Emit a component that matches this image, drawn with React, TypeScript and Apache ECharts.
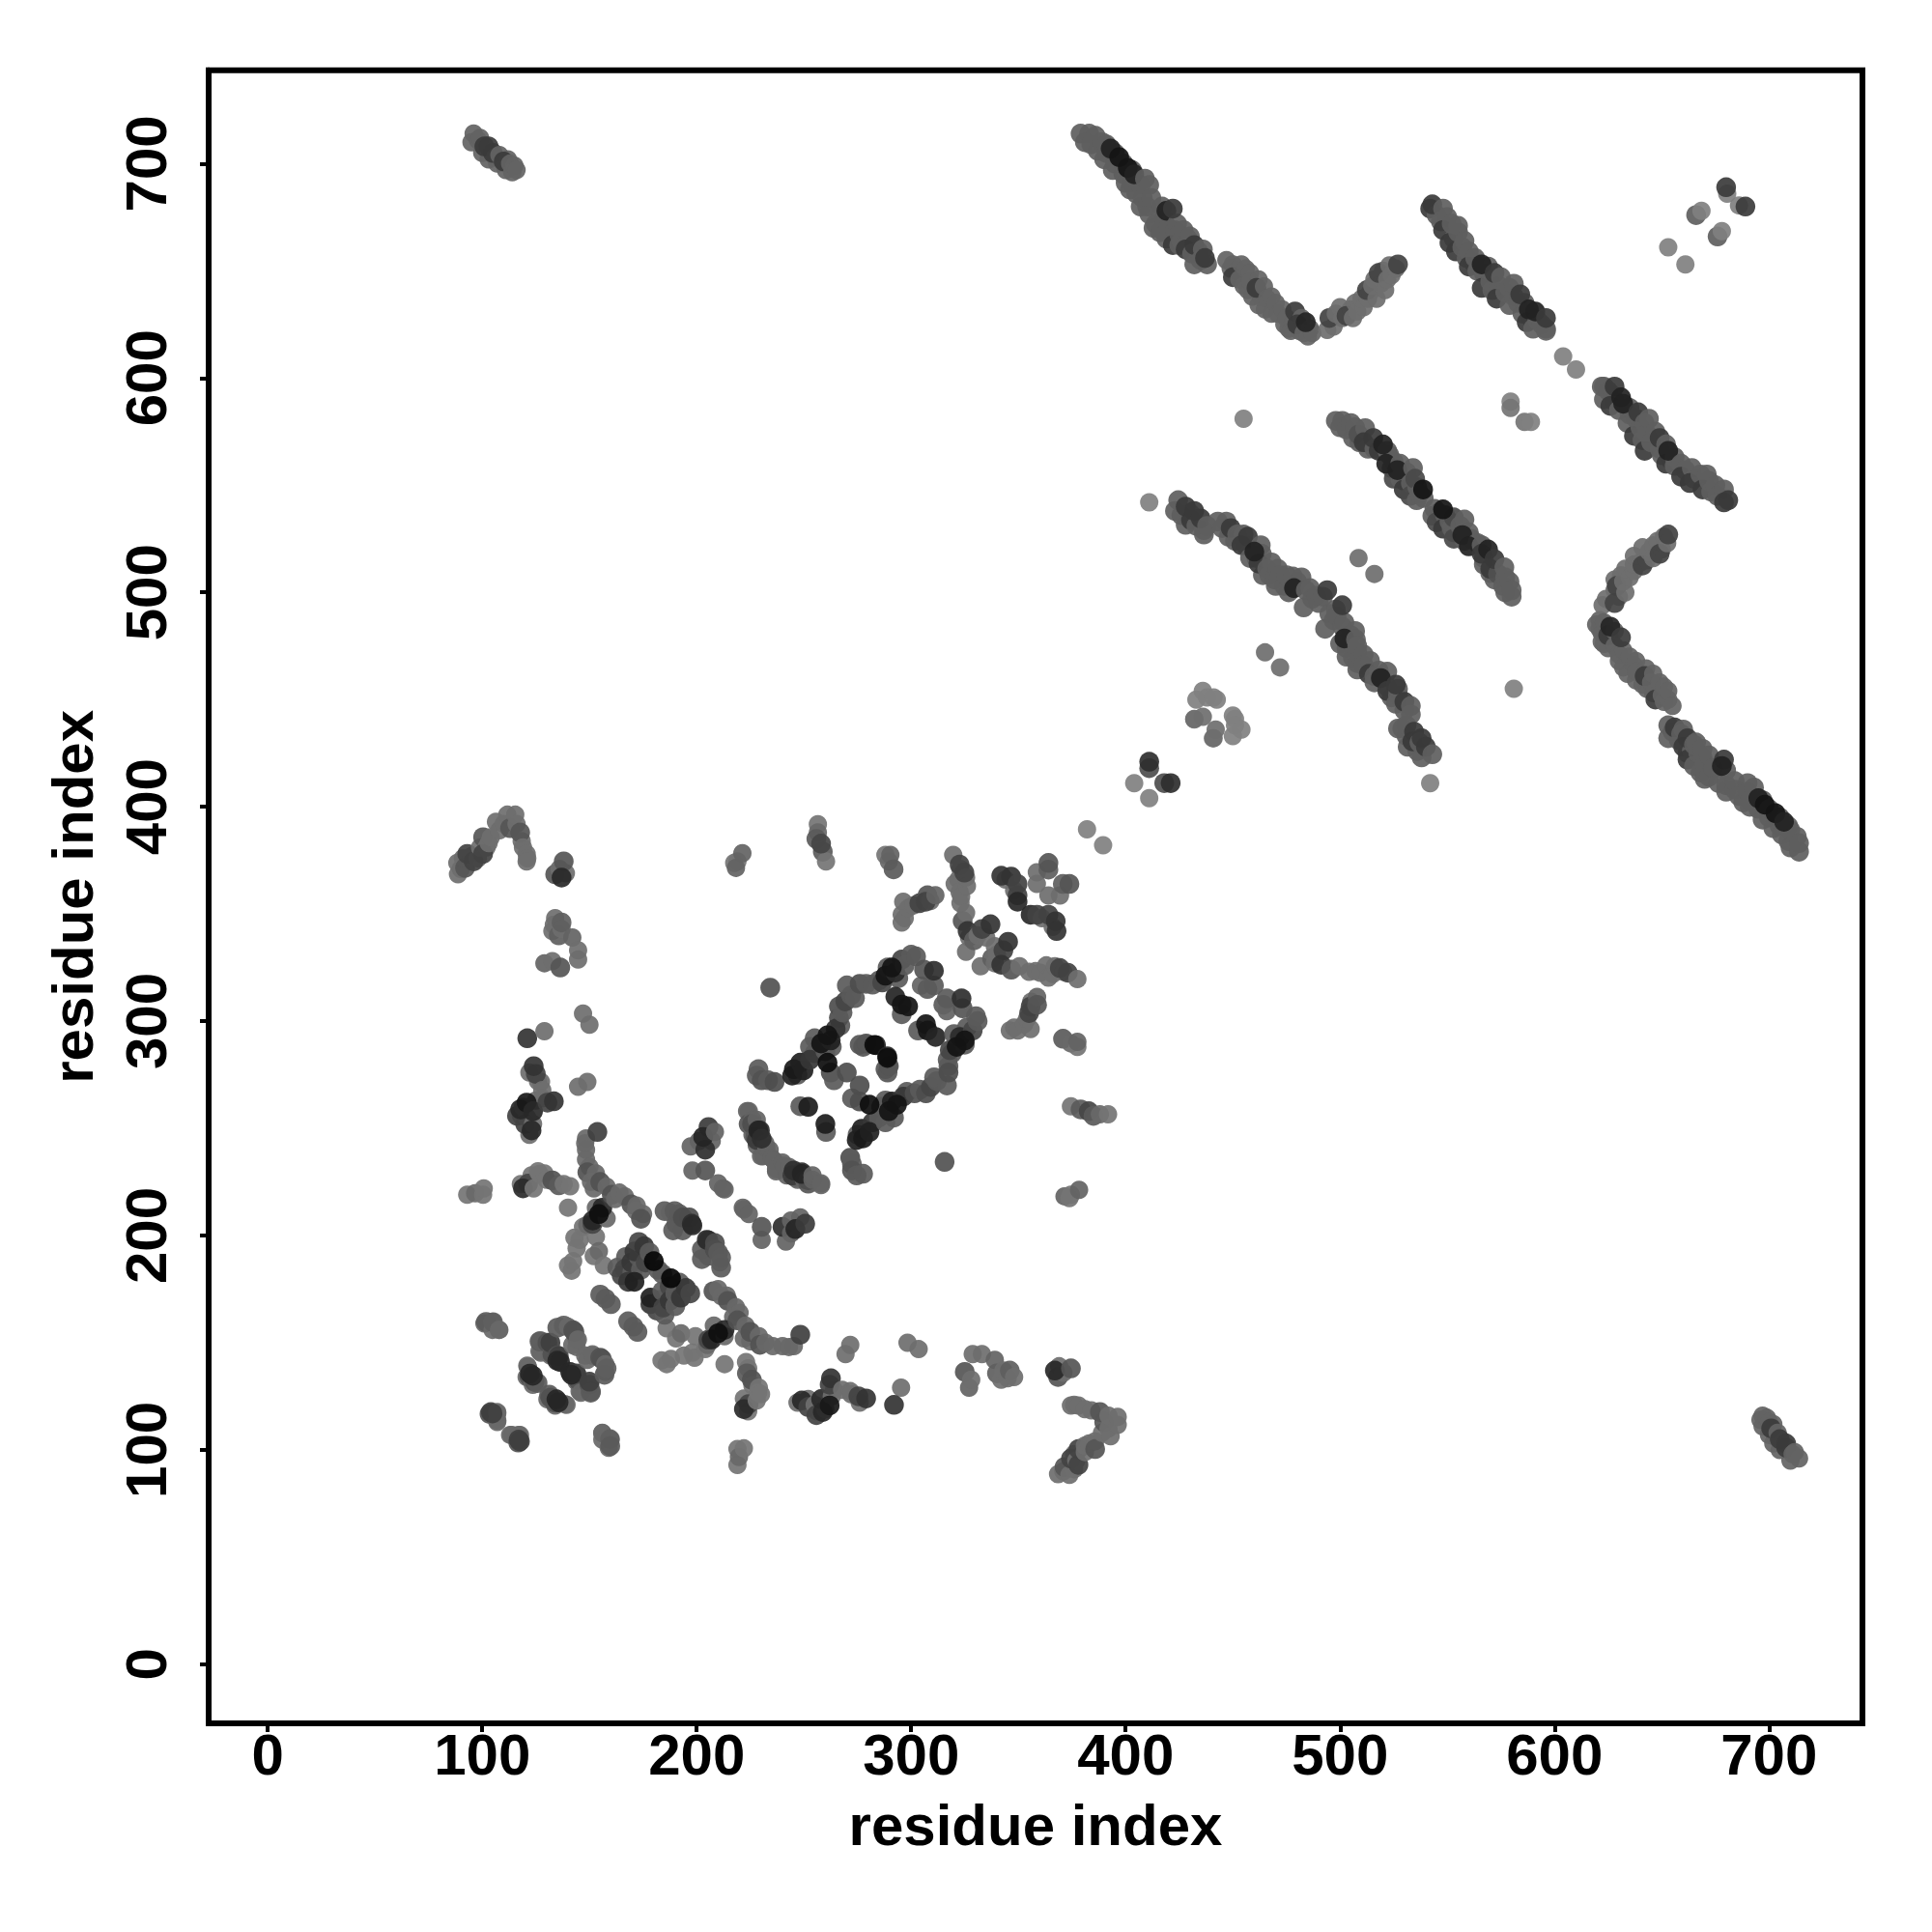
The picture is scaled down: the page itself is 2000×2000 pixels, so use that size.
import React, { useEffect, useRef } from "react";
import * as echarts from "echarts";

// contacts of the upper triangle, [residue i, residue j, weight]; the map is symmetric
const cornerContacts = [[96,714],[95,710],[98,711],[101,708,2],[103,708,2],[105,705,2],[106,703],[108,704],[110,701,2],[113,700],[114,696],[115,699],[100,705],[103,702],[107,700],[111,697],[112,702],[99,712],[116,697]];
const bandA = [[379,714],[383,714],[386,713],[389,710],[387,706],[393,707,3],[397,703,4],[401,698,4],[404,695,3],[394,697],[390,702],[400,691],[405,686],[409,693],[411,690],[410,680],[411,676.5],[414,672],[419,678,3],[422,679,2],[418,674],[423,669],[419,665],[422,662,2],[429,665],[428,660,2],[432,662,2],[437,656,2],[432,653],[434,659],[381,710],[384,709],[391,705],[395,700],[399,695],[403,691],[391,709],[395,705],[399,700],[403,697],[407,690],[402,688],[408,684],[407,680],[412,684],[413,670],[416,668],[420,670],[425,667],[417,680],[417,669],[425,662],[424,672],[427,669],[431,658],[435,655],[430,666],[436,660],[438,653],[426,664]];
const bandB = [[447,655],[450,653],[454,653],[450,647,2],[458,649],[455,643],[461,642,2],[464.5,642.7],[459,638],[468,638],[465,632],[473,632],[479,631,2],[484,626,3],[477,622],[480,625,2],[485,619.4],[476,623],[449,651],[452,650],[456,651],[453,646],[458,645],[462,646],[457,641],[463,638],[466,637],[470,635],[462,634],[468,630],[471,630],[475,628],[478,626],[481,622],[483,621],[482,628],[486,623],[474,625],[487,621]];
const riseV = [[494,622.4],[495,628,2],[500,633],[503,629,2],[508,631],[510,637],[512.5,641,2],[515,643],[518,649,2],[522,646],[523,652.5],[527,653,2],[521,641],[497,624],[498,630],[501,628],[505,632],[506,628],[507,635],[511,633],[513,637],[514,640],[516,646],[519,644],[520,650],[524,648],[526,651],[517,637]];
const bandC = [[543,681,2],[542,679,2],[548,679],[548,669,2],[555,668],[558,664],[551,663,2],[560,659],[554,659,2],[563,656],[566,653,3],[560,652,2],[567,649],[572,649,2],[566,642,2],[574,643],[579,642],[584,639,2],[573,637,2],[579,634],[588,632,3],[591,631,3],[596,628,2],[587,626,2],[590,623],[596,623],[596,622],[545,676],[550,675],[552,672],[547,673],[555,671],[553,665],[557,661],[559,656],[562,654],[564,650],[569,652],[570,645],[575,647],[577,640],[581,638],[583,635],[585,630],[592,627],[589,628],[594,625],[586,635],[581,644],[571,641]];
const loneContacts = [[604,610],[579.5,589],[579.5,586,1.2],[455,581],[411,542],[465,472,1.3],[508.6,516,1.3],[404,411],[382,389.5],[653,661],[666,676,1.6],[668.5,678],[680,689,2.5],[680.5,686]];
const bandD = [[498,580],[501,580],[505,579],[508.6,573.6,1.3],[511.7,576.6],[511,570,2],[515.5,572,2],[520,569,3],[518,566,2],[523,564],[521.5,560,3],[526.7,557,3],[525,553,1.5],[531,556],[535,553,1.5],[538.7,548,4],[532.7,545,1.5],[535.7,543],[529.7,548,2],[500,577],[503,576],[507,577],[506,572],[509,570],[513,567],[516,567],[522,566],[525,561],[524,558],[528,553],[528,560],[530,552],[533,551],[536,549],[534,558],[537,546],[539,544]];
const bandE = [[424.5,543],[423,538],[428,540,2],[432,538,2],[428,531.5],[435,534.5,2],[430.5,533.7,2],[436.5,529],[436.5,527],[443,533],[447,533],[449,530,2],[448,526],[457,526,2],[452,527],[454,522,2],[460,519,3],[463.5,518],[462,513.4,2],[464,508],[468,514],[471,511],[469.5,506],[478,507.4],[482,507],[478.5,502,3],[474,503],[486,502],[489,498.4],[483,493],[494,501,2],[426,536],[430,537],[433,531],[438,531],[445,530],[451,524],[455,527],[456,522],[458,516],[461,516],[466,511],[463,522],[467,508],[470,503],[472,508],[475,508],[476,500],[480,505],[484,501],[487,497],[490,495],[492,498]];
const smallClusters = [[436,454],[433,450],[441,451],[438,451],[442.5,450],[432,441,1.3],[436,442,1.3],[432,440.7],[411,421,3],[411,418,2]];
const leftArc = [[88.7,368.5],[88.4,373.8],[92,371.5,1.5],[93,378,2],[96,374.5,2],[100.4,378,2],[100.4,385.8,1.5],[104,385.8],[106.4,393],[111.7,396.3],[115.4,396.3],[117.7,388,1.5],[113,390,1.5],[118.4,384],[120.7,378],[120.7,374.5],[138,374.5,1.5],[137,367,3],[134,368.5,1.5],[90,371],[91,376],[95,377],[98,376],[99,381],[102,381],[103,383],[108,389],[110,392],[119,381],[121,376],[116,392],[136,371],[139,369]];
const leftColumn = [[137,346,1.3],[133.4,345],[132.7,342],[135.7,340,1.3],[142,339,1.2],[144.7,333],[144.7,328.7],[129,327,1.2],[132.7,328],[136.4,325,1.5],[147,303.5],[150,298.3],[129,295.3],[121,292,2.5],[124,279,2.5],[125,275.4,2],[127.4,271.6],[128,267.8],[133.4,262.6,2.5],[130.4,262,2],[120.7,262,4],[117.7,258.8,3],[116.2,255.8,2],[123.7,252],[123,249,3],[120,252,2],[123.7,258,3],[149,271.6],[144.7,269.4],[134,348],[137,343],[122,276],[126,272],[128,264],[118,256],[121,255],[125,263],[119,260],[122,247]];
const helixLeft = [[153.7,248.3,2],[148.4,245.3],[148.4,240],[148.4,235.5],[149,229.5,1.5],[150.7,225],[155,225,1.5],[158,222.8],[160.4,219,1.5],[166.5,218.3],[169.5,214.5,1.5],[171.7,211.5],[174,207.8,1.5],[154.4,210,5],[156,213,3],[151.5,207,3],[148,243],[150,232],[153,229],[152,222],[162,217],[164,220],[172,214],[175,210],[153,213],[158,208],[149,205]];
const midLeft = [[93,219],[96.7,219.7,1.2],[100.7,222],[100.4,219],[119,222,3],[121.4,224.2,2],[126,230],[126.7,228.7],[123,228],[132.7,225.7,1.7],[135.7,223.4,1.5],[141,223],[140,213],[147,204],[144,194],[142.4,188],[141.7,183.6],[140,186],[145.4,198],[151.4,205.4,2],[153,199.4],[154.4,192.7,1.2],[152,190.4],[156.7,186],[118,224],[124,222],[129,229],[130,226],[138,224],[143,199]];
const nearDiagonal = [[173,197,1.5],[171,192.6,2],[169.5,187.4,2],[166.4,184.4,1.5],[165,181.4,1.5],[171,178.4,3],[168,178.4,2],[180,188,6],[175.5,195,2],[176.2,187.4,1.5],[155,172.4],[160,168],[157.5,170.5],[185,211.4],[189.7,211.4],[193.5,208.4,1.3],[198,204.7,2.5],[189,202.4],[193.5,202.4],[173,190],[170,183],[174,184],[167,190],[178,192],[182,184],[163,185]];
const lowerBox = [[101,159],[105,159.6,1.2],[108,156],[138,158,1.2],[135,157,1.3],[142.4,155.8,1.5],[144,151.4],[126.7,150.6,1.3],[130.4,150,1.5],[144,148],[126.7,146],[132.7,144.6,1.5],[135.7,143.8,2],[135,141.6,3],[151.4,144.6],[155,143,1.5],[157.4,140],[157.4,136.3],[149,142],[141,136.3,3],[144,135,1.5],[150,131.8,2],[150.7,127.3,1.2],[145.4,127.3],[144,131.8],[121,139.3],[122.2,135.6,3],[124.4,131.8,1.5],[120.7,134],[131.2,125.8,1.3],[134.6,123.6,3],[138.7,121.3],[130.4,123.6],[134,122,1.5],[104,117.6,2],[107,117.6],[107,113.8],[103.4,116.8,1.5],[113,107],[117,107],[117,104.8,2],[156,107.8],[159.7,104.8],[159.7,101.8,1.3],[156,104.8]];
const sheetMid = [[198,230.3],[204,230.3,1.3],[197.2,241.6],[208.5,248.3],[205.5,250.6,2],[203,246,3],[204,240,2.5],[223.5,258],[224.2,252,1.3],[228.7,249,3],[228,244.6,2],[232.5,240.8],[230,237],[240,234],[237,231],[245.2,230.3,2.5],[249,229.5,2.5],[252,225.8,1.5],[258,224.3],[246,227.3,1.3],[210,224.3],[212.2,222],[213,221.5],[187.5,210.8],[192,210,1.2],[190.5,205.5,1.2],[196.5,208.5,1.5],[197.7,205.5,2.5],[201,244],[207,244],[226,254],[226,247],[235,236],[243,232],[250,226],[254,228],[242,228]];
const boxUpper = [[228.8,277.6],[228,274.6],[230.3,272.4,1.2],[236.3,271.6,1.3],[233.3,272.4],[234.3,315.6,1.2],[245.3,277.6,3.5],[248.3,280.6,3],[252.8,282,2],[244.5,274.6,3],[249.8,277,3],[252.8,288],[258,289.6,4],[261,293.4,4],[264.8,296.4,2],[262.5,291,3],[266.3,301.6,1.3],[266.3,306.9,1.3],[269.3,309.2,1.5],[270,316.7],[273.8,310.7],[276,317.4,1.3],[279,317.4],[288,321.2,4],[291,325,4],[295.6,328.7,1.5],[300,331],[286.5,318,1.5],[292.6,322.7,2.5],[302.3,330.2],[247,275],[255,285],[255,292],[260,286],[263,288],[267,298],[268,304],[272,312],[282,317],[285,319],[289,325],[294,320],[297,326]];
const boxInner = [[261,280.6,5],[270,276,1.5],[264,272.4,1.2],[262.5,276,1.5],[279,289.6,1.3],[282.8,288.9,5],[276,289,1.3],[288.8,283.6,3],[289.6,279],[288,277.6,1.3],[292.6,311.4,3],[295.6,307.7,4],[298.6,306.9,4],[295.6,303.2,1.2],[310.6,323.5,2.5],[306,324,1.3],[307.6,315,1.2],[310.6,316.6,1.2],[304.6,316.6],[252,260,3.5],[248.3,260.3,1.2]];
const topStacks = [[219,374.5],[218.3,371.5,1.3],[221.3,378.3,1.3],[217.5,373.8],[256.5,391.8],[256.5,388,1.2],[258,382.8,2],[255.8,385,1.5],[260.3,374.5],[258.8,379,1.5],[288,377.5],[290.3,377.5,1.3],[291.8,370.8,1.5],[289.6,374.5,1.2]];
const upperRight = [[296.3,355.7],[295.6,349.7],[295.6,346],[303.8,355,2],[307.6,358.7,1.5],[311.3,358.7,1.2],[298.6,352.7],[306.8,355.7,2],[319.6,377.5],[322.6,373,2],[324.8,369.3,2],[325.6,367],[320.3,364],[323.3,358],[322.6,360.2],[325.6,350.5],[324,346.7,1.5],[326.3,342,2.5],[325.6,332.4],[329.3,337.7,1.3],[333,343,2],[337,345.2,2.5],[342,367.8,2.5],[346.6,367.4,2.5],[349.6,364,2],[349.6,358.7,2],[349.6,355.7,3],[358.6,369.4],[358.6,364],[364,373.8,1.5],[364,370.7,1.3],[297,348],[301,354],[309,356],[323,371],[322,366],[326,363],[323,355],[327,339],[331,340],[335,339],[344,366],[348,361]];
const contactGroups = [cornerContacts, bandA, bandB, riseV, bandC, loneContacts, bandD, bandE, smallClusters, leftArc, leftColumn, helixLeft, midLeft, nearDiagonal, lowerBox, sheetMid, boxUpper, boxInner, topStacks, upperRight];
// added darkness of the dense groups, in the order of contactGroups
const groupDarkness = [0.5, 0.6, 0.5, 0.3, 0.6, 0, 0.6, 0.6, 0, 0.3, 0.3, 0.4, 0.2, 0.7, 0.4, 0.5, 0.7, 0.5, 0.2, 0.3];

const tickValues = [0, 100, 200, 300, 400, 500, 600, 700];
const axisTitle = "residue index";

function toPoint(x: number, y: number, w: number) {
  const level = Math.round(128 * Math.pow(0.6, w - 1));
  return { value: [x, y], weight: w, symbolSize: w > 1.5 ? 20.5 : 19, itemStyle: { color: `rgb(${level},${level},${level})`, opacity: 0.92 } };
}

export default function App() {
  const ref = useRef<HTMLDivElement>(null);
  useEffect(() => {
    const chart = echarts.init(ref.current!, undefined, { renderer: "svg" });
    const data: any[] = [];
    contactGroups.forEach((g, k) =>
      g.forEach((c) => {
        const w = (c[2] ?? 1) + groupDarkness[k];
        data.push(toPoint(c[0], c[1], w));
        data.push(toPoint(c[1], c[0], w));
      })
    );
    data.sort((a, b) => a.value[0] + (a.weight - 1) * 2.5 - (b.value[0] + (b.weight - 1) * 2.5));
    const font = { fontFamily: "Liberation Sans", fontWeight: "bold" as const, fontSize: 60, color: "#000" };
    const axisBase = {
      type: "value" as const,
      min: -27.56,
      max: 743.56,
      splitLine: { show: false },
      axisLine: { show: true, onZero: false, lineStyle: { color: "#000", width: 6 } },
      axisTick: { show: true, customValues: tickValues, length: 9, lineStyle: { color: "#000", width: 4 } },
      name: axisTitle,
      nameLocation: "middle" as const,
      nameTextStyle: font,
    };
    chart.setOption({
      animation: false,
      backgroundColor: "#fff",
      grid: { left: 216, right: 72, top: 72.7, bottom: 216, show: true, borderWidth: 6, borderColor: "#000", backgroundColor: "#fff" },
      xAxis: { ...axisBase, nameGap: 75, axisLabel: { ...font, customValues: tickValues, margin: 2, formatter: (v: number) => String(v) } },
      yAxis: { ...axisBase, nameGap: 111, axisLabel: { ...font, customValues: tickValues, rotate: 90, margin: 35, formatter: (v: number) => String(v) } },
      series: [{ type: "scatter", symbol: "circle", symbolSize: 19, progressive: 0, silent: true, data }],
    });
    return () => chart.dispose();
  }, []);
  return <div ref={ref} style={{ position: "absolute", left: 0, top: 0, width: 2000, height: 2000 }} />;
}
